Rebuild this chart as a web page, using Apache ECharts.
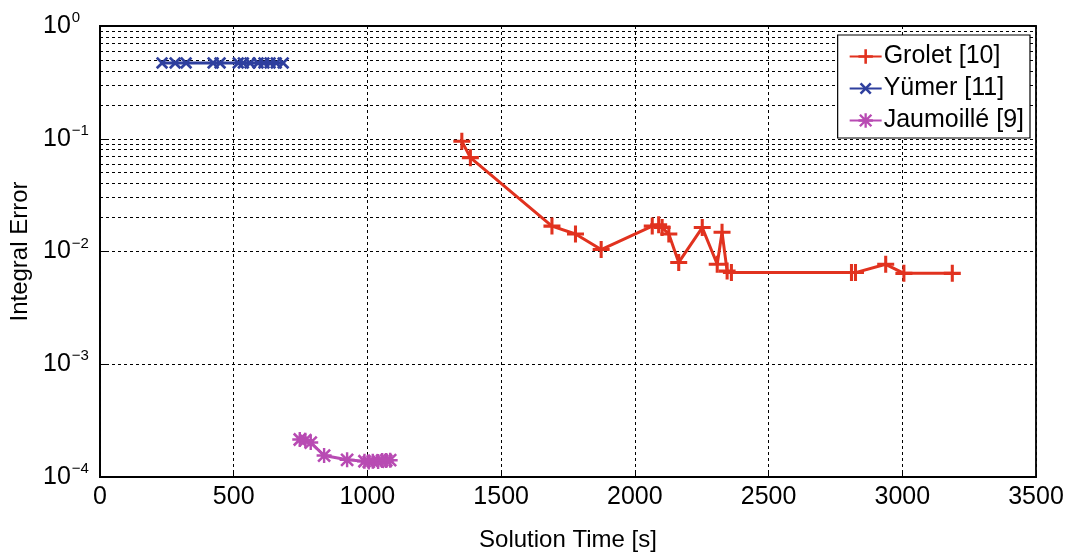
<!DOCTYPE html>
<html>
<head>
<meta charset="utf-8">
<style>html,body{margin:0;padding:0;background:#fff;}#c{width:1068px;height:554px;}</style>
<script src="https://cdn.jsdelivr.net/npm/echarts@6/dist/echarts.min.js"></script>
</head>
<body>
<div id="c"></div>
<script>
// ---- data ----
const groletX = [1353, 1385, 1690, 1778, 1874, 2065, 2089, 2102, 2127, 2164, 2252, 2308, 2326, 2345, 2361, 2810, 2825, 2938, 3006, 3187];
const groletY = [0.095, 0.068, 0.0168, 0.0143, 0.0104, 0.0168, 0.0173, 0.0163, 0.0143, 0.0080, 0.0163, 0.0077, 0.0148, 0.0067, 0.0065, 0.0065, 0.0065, 0.0077, 0.0064, 0.0064];
const yumerX = [232, 281, 322, 423, 449, 517, 536, 561, 591, 613, 636, 659, 685];
const yumerY = [0.47, 0.47, 0.47, 0.47, 0.47, 0.47, 0.47, 0.47, 0.47, 0.47, 0.47, 0.47, 0.47];
const jaumX = [747, 768, 788, 838, 924, 989, 1005, 1020, 1040, 1055, 1070, 1085];
const jaumY = [2.15e-4, 2.12e-4, 2.02e-4, 1.55e-4, 1.42e-4, 1.38e-4, 1.36e-4, 1.38e-4, 1.37e-4, 1.4e-4, 1.4e-4, 1.41e-4];
const seriesNames = ['Grolet [10]', 'Yümer [11]', 'Jaumoillé [9]'];
const xTicks = [0, 500, 1000, 1500, 2000, 2500, 3000, 3500];
const yDecades = [1e-4, 1e-3, 1e-2, 1e-1, 1];
const minorMultipliers = [2, 3, 4, 5, 6, 7, 8, 9];

const pair = (xs, ys) => xs.map((x, i) => [x, ys[i]]);
const minorVals = [];
yDecades.slice(0, -1).forEach(d => minorMultipliers.forEach(m => minorVals.push(d * m)));

const PLUS = 'path://M4.1,0H5.9V4.1H10V5.9H5.9V10H4.1V5.9H0V4.1H4.1Z';
const STAR = 'path://M4.2,0H5.8V10H4.2Z M0,4.2H10V5.8H0Z M0.4,1.6L1.6,0.4L9.6,8.4L8.4,9.6Z M8.4,0.4L9.6,1.6L1.6,9.6L0.4,8.4Z';
const FONT = 'Liberation Sans, Arial, Helvetica, sans-serif';

const chart = echarts.init(document.getElementById('c'), null, {renderer: 'canvas'});
const dash = {type: [3, 3], color: '#000', width: 1};

chart.setOption({
  animation: false,
  backgroundColor: '#fff',
  textStyle: {fontFamily: FONT},
  grid: {left: 100, right: 32, top: 26, bottom: 77, outerBoundsMode: 'none', containLabel: false,
    show: true, borderColor: '#000', borderWidth: 1.8, backgroundColor: 'transparent'},
  legend: {
    z: 50, orient: 'vertical', right: 38, top: 35,
    backgroundColor: '#fff', borderColor: '#000', borderWidth: 1.2,
    padding: [9, 6, 5, 11], itemGap: 7, itemWidth: 32, itemHeight: 18,
    textStyle: {fontSize: 25, color: '#000', fontFamily: FONT, padding: [0, 0, 0, -3]},
    data: seriesNames
  },
  xAxis: {
    type: 'value', min: xTicks[0], max: xTicks[xTicks.length - 1], interval: 500,
    name: 'Solution Time [s]', nameLocation: 'middle', nameGap: 51,
    nameTextStyle: {fontSize: 24, color: '#000', fontFamily: FONT},
    axisLine: {lineStyle: {color: '#000', width: 1.8}},
    axisTick: {inside: true, length: 6, lineStyle: {color: '#000'}},
    axisLabel: {fontSize: 25, color: '#000', margin: 8, fontFamily: FONT, formatter: v => String(v)},
    splitLine: {show: true, lineStyle: dash}
  },
  yAxis: {
    type: 'log', logBase: 10, min: 1e-4, max: 1,
    name: 'Integral Error', nameLocation: 'middle', nameGap: 64,
    nameTextStyle: {fontSize: 24, color: '#000', fontFamily: FONT},
    axisLine: {lineStyle: {color: '#000', width: 1.8}},
    axisTick: {inside: true, length: 6, lineStyle: {color: '#000'}},
    axisLabel: {
      align: 'left', margin: 57, color: '#000',
      formatter: v => {
        const e = Math.round(Math.log10(v));
        return '{b|10}{e|' + (e < 0 ? '\u2212' + (-e) : e) + '}';
      },
      rich: {
        b: {fontSize: 25, color: '#000', fontFamily: FONT},
        e: {fontSize: 15, color: '#000', fontFamily: FONT, padding: [0, 0, 16, 1]}
      }
    },
    splitLine: {show: true, lineStyle: dash}
  },
  series: [
    {
      name: 'minor', type: 'line', data: [], silent: true, z: 1,
      markLine: {silent: true, symbol: 'none', label: {show: false}, lineStyle: dash, animation: false,
        data: minorVals.map(v => ({yAxis: v}))}
    },
    {
      name: seriesNames[0], type: 'line', data: pair(groletX, groletY), z: 5,
      symbol: PLUS, symbolSize: 17, showAllSymbol: true,
      lineStyle: {color: '#e1321f', width: 3}, itemStyle: {color: '#e1321f'}
    },
    {
      name: seriesNames[1], type: 'line', data: pair(yumerX, yumerY), z: 5,
      symbol: PLUS, symbolSize: 15, symbolRotate: 45, showAllSymbol: true,
      lineStyle: {color: '#2e3f9e', width: 3}, itemStyle: {color: '#2e3f9e'}
    },
    {
      name: seriesNames[2], type: 'line', data: pair(jaumX, jaumY), z: 5,
      symbol: STAR, symbolSize: 15, showAllSymbol: true,
      lineStyle: {color: '#b84bb3', width: 3}, itemStyle: {color: '#b84bb3'}
    }
  ]
});
</script>
</body>
</html>
